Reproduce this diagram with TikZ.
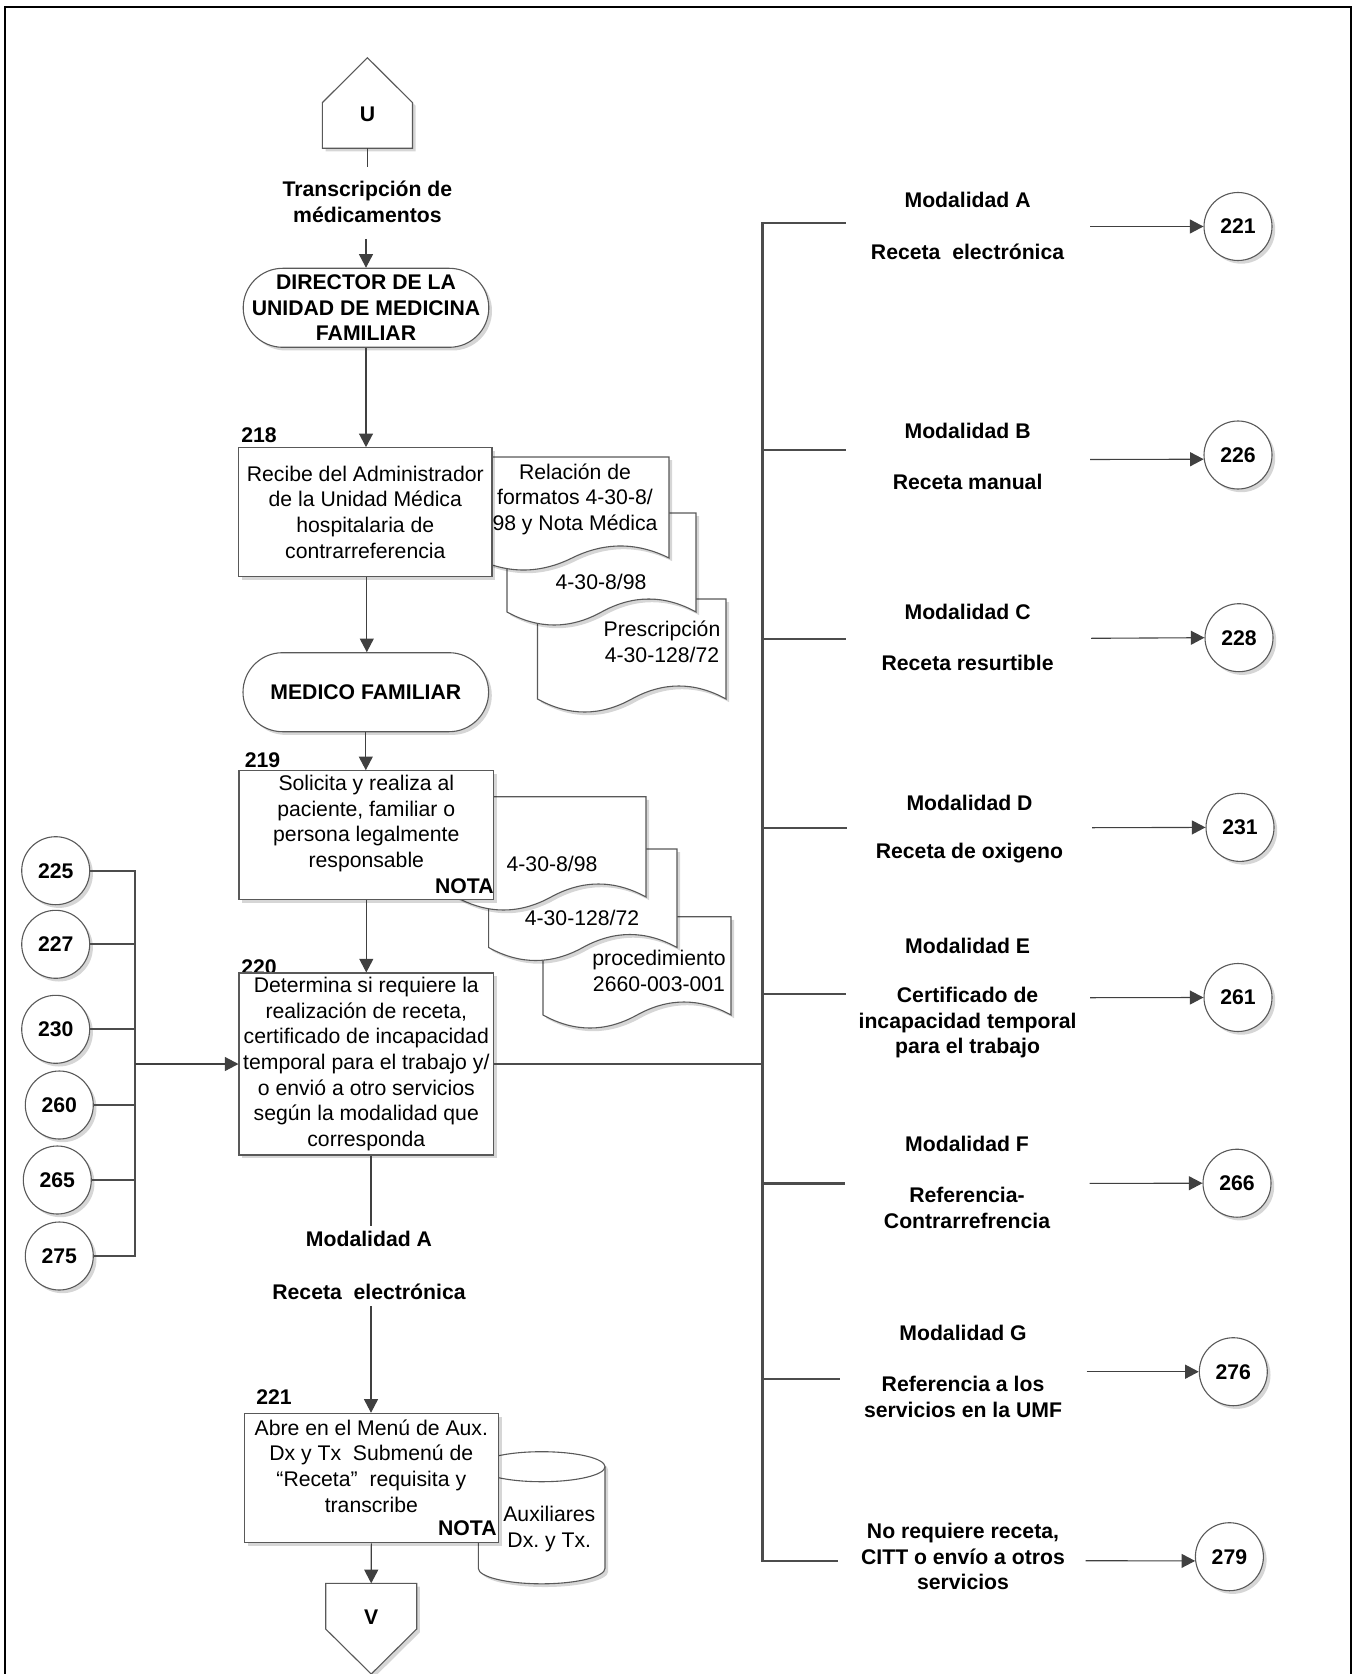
\documentclass[tikz,border=0pt]{standalone}
\usepackage{fontspec}
\setmainfont{Liberation Sans}
\usetikzlibrary{arrows.meta,shadows,calc}

% document symbol: left, top, right, baseline of the wave, wave amplitude
\newcommand{\docshape}[5]{%
  \path[docsym] (#1,#2) -- (#3,#2) -- (#3,#4)
    .. controls ({#3-(#3-#1)/6},{#4-4*#5/3}) and ({(#1+#3)/2+(#3-#1)/6},{#4-4*#5/3}) .. ({(#1+#3)/2},#4)
    .. controls ({(#1+#3)/2-(#3-#1)/6},{#4+4*#5/3}) and ({#1+(#3-#1)/6},{#4+4*#5/3}) .. (#1,#4) -- cycle;}

\begin{document}
\frenchspacing
\begin{tikzpicture}[x=0.5pt,y=-0.5pt,
  font=\fontsize{10.6}{12.8}\selectfont,
  line/.style={draw=black!75, line width=0.55pt},
  bus/.style={draw=black!70, line width=1.15pt},
  arr/.style={line, -{Triangle[length=6.8pt,width=7pt]}},
  shad/.style={drop shadow={shadow xshift=1.6pt,shadow yshift=-1.6pt,fill=black,opacity=0.16}},
  outline/.style={draw=black!65, line width=0.55pt, fill=white, shad},
  docsym/.style={outline},
  proc/.style={outline, rectangle, inner sep=0pt, align=center},
  term/.style={proc, rounded corners=19.75pt, minimum width=122.8pt, minimum height=39.5pt,
               font=\fontsize{10.6}{12.8}\selectfont\bfseries},
  conn/.style={outline, circle, minimum size=34pt, inner sep=0pt,
               font=\fontsize{10.6}{12.8}\selectfont\bfseries},
  lbl/.style={font=\fontsize{10.6}{12.8}\selectfont\bfseries, align=center, inner sep=0pt},
  txt/.style={align=center, inner sep=0pt},
]
\useasboundingbox (0,0) rectangle (1357,1674);
\clip (0,0) rectangle (1357,1674);

% page frame
\draw[line width=1pt] (5,1700) -- (5,7) -- (1351,7) -- (1351,1700);

% ---------- main column ----------
% off-page connector U
\path[outline] (322.3,148.3) -- (322.3,102.7) -- (367.4,57.7) -- (412.5,102.7) -- (412.5,148.3) -- cycle;
\node[lbl] (u) at (367.4,114.3) {U};
\coordinate (ubot) at (367.4,148.3);
\coordinate (uend) at (367.4,166.7);
\draw[line] (ubot) -- (uend);
\node[lbl] (trans) at (367.4,202) {Transcripción de\\médicamentos};
\coordinate (transend) at (366,239);

\node[term] (dir) at (366,307.8) {DIRECTOR DE LA\\UNIDAD DE MEDICINA\\FAMILIAR};
\draw[arr] (transend) -- (dir.north);

% step 218 with its documents
\node[lbl] (n218) at (259,435) {218};
\docshape{537.5}{599}{726}{699}{13}
\node[txt] (d3txt) at (662,641.5) {Prescripción\\4-30-128/72};
\docshape{507}{513}{696}{612}{13}
\node[txt] (d2txt) at (601,582) {4-30-8/98};
\docshape{475}{457}{669}{558}{12}
\node[txt] (d1txt) at (575,499) {Relación de\\formatos 4-30-8/\\98 y Nota Médica};
\node[proc, minimum width=126.7pt, minimum height=64.5pt] (b218) at (365.3,512.2)
  {Recibe del Administrador\\de la Unidad Médica\\hospitalaria de\\contrarreferencia};
\draw[arr] (dir.south) -- (dir.south |- b218.north);

\node[term] (mf) at (365.8,692.2) {MEDICO FAMILIAR};
\draw[arr] ($(b218.south)+(1.5,0)$) -- ($(b218.south |- mf.north)+(1.5,0)$);

% step 219 with its documents
\node[lbl] (n219) at (262.5,760) {219};
\docshape{543}{916.7}{731}{1015}{13}
\node[txt] (dctxt) at (659,971) {procedimiento\\2660-003-001};
\docshape{488.6}{849}{677}{947.5}{13}
\node[txt] (dbtxt) at (582,917.7) {4-30-128/72};
\docshape{456}{796.7}{646}{897}{13}
\node[txt] (datxt) at (552,864) {4-30-8/98};
\node[proc, minimum width=127.3pt, minimum height=64.3pt] (b219) at (366.3,835) {};
\node[txt] (t219) at (366.3,823.7) {Solicita y realiza al\\paciente, familiar o\\persona legalmente\\responsable};
\node[lbl, anchor=east] (nota219) at (494,885.7) {NOTA};
\draw[arr] (mf.south) -- (mf.south |- b219.north);

% step 220
\node[lbl] (n220) at (259,967) {220};
\node[proc, minimum width=127.3pt, minimum height=91pt] (b220) at (366.3,1064)
  {Determina si requiere la\\realización de receta,\\certificado de incapacidad\\temporal para el trabajo y/\\o envió a otro servicios\\según la modalidad que\\corresponda};
\draw[arr] (b219.south) -- (b219.south |- b220.north);

% branch A below step 220
\coordinate (m1) at (371,1226);
\draw[line] (m1 |- b220.south) -- (m1);
\node[lbl] (modA2) at (369,1239.3) {Modalidad A};
\node[lbl] (recA2) at (369,1291.7) {Receta~~electrónica};
\coordinate (m2) at (371,1306);

% step 221 with its store
\node[lbl] (n221) at (274,1396.7) {221};
\path[outline] (478.3,1466.7) -- (478.3,1568.3) arc[start angle=180,end angle=0,x radius=63.35,y radius=15.5]
  -- (605,1466.7) arc[start angle=0,end angle=-180,x radius=63.35,y radius=15] -- cycle;
\draw[draw=black!65, line width=0.55pt] (478.3,1466.7) arc[start angle=180,end angle=0,x radius=63.35,y radius=15];
\node[txt] (auxtxt) at (549.3,1528.8) {Auxiliares\\Dx. y Tx.};
\node[proc, minimum width=127pt, minimum height=64.7pt] (b221) at (371.3,1478) {};
\node[txt] (t221) at (371.3,1466) {Abre en el Menú de Aux.\\Dx y Tx~~Submenú de\\“Receta”~~requisita y\\transcribe};
\node[lbl, anchor=east] (nota221) at (497,1528.3) {NOTA};
\draw[arr] (m2) -- (m2 |- b221.north);

% off-page connector V
\path[outline] (325.7,1583.3) -- (416.7,1583.3) -- (416.7,1629) -- (371.2,1674) -- (325.7,1629) -- cycle;
\node[lbl] (v) at (371.2,1616.7) {V};
\coordinate (vtop) at (371.2,1583.3);
\draw[arr] (b221.south) -- (vtop);

% ---------- incoming connectors on the left ----------
\node[conn] (c225) at (55.7,870.7) {225};
\node[conn] (c227) at (55.7,944.3) {227};
\node[conn] (c230) at (55.7,1029.3) {230};
\node[conn] (c260) at (59.3,1105) {260};
\node[conn] (c265) at (57.3,1180) {265};
\node[conn] (c275) at (59.3,1256) {275};
\coordinate (lbus) at (135,0);
\draw[bus] (c225.east) -- (c225.east -| lbus) -- (c275.east -| lbus) -- (c275.east);
\foreach \c in {c227,c230,c260,c265} \draw[bus] (\c.east) -- (\c.east -| lbus);
\coordinate (lj) at (135,1064);
\draw[arr] (lj) -- (b220.west);

% ---------- outgoing branches on the right ----------
\coordinate (rbus) at (762.4,0);
\draw[bus] (b220.east) -- (b220.east -| rbus);
\draw[bus] (845.5,223) -- (762.4,223) -- (762.4,1560.7) -- (838.4,1560.7);
\draw[bus] (762.4,450) -- (845.5,450);
\draw[bus] (762.4,638.8) -- (845.5,638.8);
\draw[bus] (762.4,828) -- (847,828);
\draw[bus] (762.4,994) -- (845.5,994);
\draw[bus] (762.4,1183.5) -- (845,1183.5);
\draw[bus] (762.4,1379.3) -- (840.4,1379.3);

\node[conn] (c221) at (1238,226.5) {221};
\node[conn] (c226) at (1238,455) {226};
\node[conn] (c228) at (1239,637.7) {228};
\node[conn] (c231) at (1240,827.4) {231};
\node[conn] (c261) at (1238,997.5) {261};
\node[conn] (c266) at (1237,1183.2) {266};
\node[conn] (c276) at (1233.3,1371.7) {276};
\node[conn] (c279) at (1229.4,1556.7) {279};

\node[lbl] (mA) at (967.6,200) {Modalidad A};
\node[lbl] (rA) at (967.6,251.8) {Receta~~electrónica};
\node[lbl] (mB) at (967.6,430.7) {Modalidad B};
\node[lbl] (rB) at (967.6,481.6) {Receta manual};
\node[lbl] (mC) at (967.6,611.8) {Modalidad C};
\node[lbl] (rC) at (967.6,663) {Receta resurtible};
\node[lbl] (mD) at (969.5,802.5) {Modalidad D};
\node[lbl] (rD) at (969.5,853.3) {Receta de oxigeno};
\node[lbl] (mE) at (967.6,945.6) {Modalidad E};
\node[lbl] (rE) at (967.6,1022.8) {Certificado de\\incapacidad temporal\\para el trabajo};
\node[lbl] (mF) at (967,1143.9) {Modalidad F};
\node[lbl] (rF) at (967,1208.2) {Referencia-\\Contrarrefrencia};
\node[lbl] (mG) at (963,1332.7) {Modalidad G};
\node[lbl] (rG) at (963,1396.8) {Referencia a los\\servicios en la UMF};
\node[lbl] (rH) at (963,1556.7) {No requiere receta,\\CITT o envío a otros\\servicios};

\coordinate (aA) at (1090,226.5);
\coordinate (aB) at (1090,459.5);
\coordinate (aC) at (1091,638.3);
\coordinate (aD) at (1092,827.7);
\coordinate (aE) at (1090,997.7);
\coordinate (aF) at (1089.6,1183.4);
\coordinate (aG) at (1086.5,1371.7);
\coordinate (aH) at (1085.7,1560.7);
\draw[arr] (aA) -- (c221.west);
\draw[arr] (aB) -- (c226.187);
\draw[arr] (aC) -- (c228.west);
\draw[arr] (aD) -- (c231.west);
\draw[arr] (aE) -- (c261.west);
\draw[arr] (aF) -- (c266.west);
\draw[arr] (aG) -- (c276.west);
\draw[arr] (aH) -- (c279.187);
\end{tikzpicture}
\end{document}
